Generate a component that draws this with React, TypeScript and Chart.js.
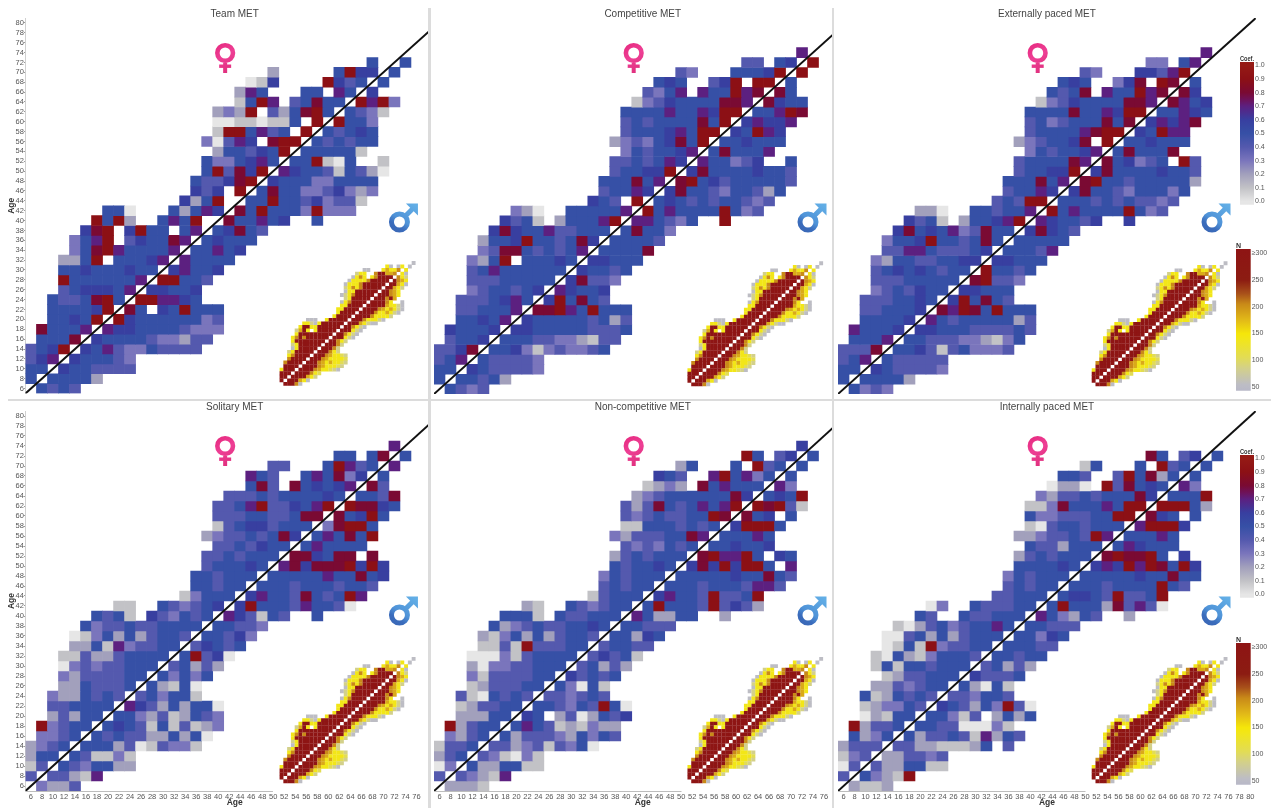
import React, { useEffect, useRef } from "react";
import Chart from "chart.js/auto";

const AGE_TICKS = [6, 8, 10, 12, 14, 16, 18, 20, 22, 24, 26, 28, 30, 32, 34, 36, 38, 40, 42, 44, 46, 48, 50, 52, 54, 56, 58, 60, 62, 64, 66, 68, 70, 72, 74, 76, 78, 80];
const ROW_AGES = [74, 72, 70, 68, 66, 64, 62, 60, 58, 56, 54, 52, 50, 48, 46, 44, 42, 40, 38, 36, 34, 32, 30, 28, 26, 24, 22, 20, 18, 16, 14, 12, 10, 8, 6];
const COEF_TICKS = [0, 0.1, 0.2, 0.3, 0.4, 0.5, 0.6, 0.7, 0.8, 0.9, 1];
const N_TICKS = [50, 100, 150, 200, 250, 300];

// Each row: "first x age|one digit per 2-year column" (digit = coefficient x 10, "." = no cell)
const teamMet = ["", "68|5..5", "50|2.....5966.5", "46|016....9645.5", "44|275...55.75.6", "44|1597.45855.9793", "40|2329.425895.5431", "40|00110115.9.9553", "40|1995745.9.54565", "38|30476.899.545455", "40|2554659.555551", "38|5335675.559105..1", "38|594869.7655415420", "36|544689.6555335555", "36|646.9.58553346323", "34|6259..55955463441", "20|550...52576.85955539333", "18|9592..5759..855756..5", "16|689.6955.57.56854", "14|3579.465587.56555", "14|3589755557.55756", "12|2259.55567.75555", "12|556555655.67556", "12|95555557.99554", "12|4566657.66556", "10|5445895.997765", "10|555569.85.659555", "10|55659.9655555534", "8|85557.76655554333", "8|5558.65555433244", "6|4569.65743354444", "6|467.655543", "6|55.6554444", "6|5.55552", "8|5454"];
const competitiveMet = ["72|7", "62|44.56.9", "50|43...55569.9", "46|565..469.99.5", "44|4357.755978.85", "42|13465555887.8655", "40|55557557699.55798", "40|4545555859.67667", "40|455567599.65976", "38|234356859.556555", "40|3545567.585557", "38|4454576.755346..5", "38|455669.6855556554", "36|555857.89564555554", "36|45576.68554355425", "34|654.9.56545455434", "20|320..555557.95755559534", "18|6451.255579.775435..9", "16|68655744555.58553", "14|25569554586.55554", "14|3488545457.55558", "12|3259.55565.66555", "12|457555555.65545", "12|44455555.68443", "12|3455456.76556", "10|4445675.695854", "10|445557.889759555", "10|55657.6555554524", "8|65556.66555554445", "8|4556.55544332144", "6|4468.55631343345", "6|457.544443", "6|55.6544443", "6|5.55452", "8|5434"];
const externallyPacedMet = ["72|7", "62|33.57", "50|43...66479", "46|565..368.98.5", "44|5458.755978.86", "42|13465555887.8756", "40|55558557699.55765", "40|4534555858.67678", "40|455557899.65977", "38|2345568.9.556555", "40|3545567.585558", "38|4555587.856345.94", "38|455669.6855556554", "36|555857.89554555552", "36|45576.68554355535", "34|45499.55545454434", "20|220..554557.95755559534", "18|6451.255679.765546..6", "16|68565734855.68654", "14|35569554585.55555", "14|4477544456.55547", "12|3255445566.66555", "12|456565455.95545", "12|44455555.89443", "12|3454655.66555", "10|4445565.695854", "10|445556.879859555", "10|55556.7545555524", "8|75556.66555444454", "8|5557.55444332135", "6|4448.55641453334", "6|457.544444", "6|55.6544443", "6|5.55552", "8|5343"];
const solitaryMet = ["72|7", "62|55.58.5", "50|44...59745.7", "46|754..575836.5", "46|584.856567.84", "42|44454555565.5548", "40|44579446579.98865", "40|4445544588.85695", "40|145664555.38995", "38|234454586.575859", "40|4454655.575555", "38|4454555.886588.8", "38|455565.7868889696", "36|554555.55555755856", "36|55455.55545554554", "34|13555.67554854597", "22|11..543456.69555475540", "18|5451.643545.764154..5", "16|53445445555.55443", "14|01352524554.55463", "14|2251734455.46545", "12|1142245555.59460", "12|034344555.45242", "12|32444455.53535", "12|2254445.52150", "10|3225454.453551", "10|445555.764252550", "10|24255.5532412543", "8|93455.56541514123", "8|3345.54544225250", "6|2345.55524014331", "6|255.541131", "6|14.5435522", "6|4.44217", "8|3224"];
const nonCompetitiveMet = ["72|6", "62|95.46.5", "50|25...5.945.5", "46|654..795735.5", "44|1232.857555.73", "42|23455555586.5659", "40|42485457579.98941", "40|4345445598.856.5", "40|115554545.69995", "38|324445587.55575", "40|4343545.556556", "38|2454555.897795.65", "38|545565.68696995.7", "36|354555.55555655854", "36|45455.55545554774", "34|14555.6755494459", "22|21..543455.59555494642", "18|5551.544555.752255..2", "16|52345445565.55444", "14|21352524554.55265", "14|1141944455.45544", "12|0003145555.46451", "12|203344555.45242", "12|31444455.64545", "12|1244455.53051", "10|4105454.443454", "10|124455.554354950", "10|22255.65.2402546", "8|92455.5754121322", "8|3245.52444325354", "6|1445.4423414350", "6|245.431031", "6|03.5225511", "6|4.43217", "8|2221"];
const internallyPacedMet = ["", "62|85.46.5", "50|15...5.945.5", "46|554..495825.5", "44|0220.948565.73", "42|32445455586.5559", "40|11385557599.99952", "40|5334445599.865.5", "40|104554555.79996", "38|223445497.55575", "40|5442555.576555", "38|2454555.898895.6", "38|555565.6769798596", "36|354555.55555655855", "36|45455.55545555954", "34|44555.5665494459", "22|03..544455.59555284740", "20|54..544555.753254..2", "16|10245345575.55444", "14|00452524555.55365", "14|0151934455.55544", "12|1052135554.55455", "12|151554555.45242", "14|1244555.64445", "12|2243455.52051", "10|5125454.443554", "10|123354.654253940", "10|02155.55314.2525", "8|92445.554400031", "8|5235.52445417254", "6|2444.442211125.4", "6|134.224434", "6|04.4225511", "6|4.53219", "8|2112"];
// Same layout, digit = sample-size tier (see N_TIERS)
const sampleSizeN = ["76|0", "62|30.03.0", "50|00...35336.3", "46|133..699556.30", "44|0363.369999.631", "42|03333699999.9653", "40|03336999999.99530", "40|1363699999.99531", "40|033999999.99653", "38|013699999.999653", "40|1399999.999695", "38|0369999.999963..0", "38|339999.9999953310", "36|339999.99996535310", "36|39999.99996335310", "34|39999.9999633331", "20|000..399999.999633310", "18|33103999999.99953100", "16|39933999999.996310", "14|1593.399999.999310", "14|3999999999.996310", "12|3696999999.999310", "12|399999999.99631", "12|13999999.99961", "12|0399999.99961", "10|1399999.999631", "10|369999.999653321", "10|69999.9996533332", "8|69999.99965353321", "8|9999.99996533321", "6|3999.99996533210", "6|999.9999632", "6|99.9999531", "6|9.999530", "8|99960"];
const N_TIERS = [55, 85, 105, 140, 150, 185, 205, 235, 270, 300];

const coefStops: [number, string][] = [[0, "#e6e6e6"], [0.1, "#c2c2c6"], [0.2, "#a2a0bc"], [0.3, "#7a75bc"], [0.4, "#5459ae"], [0.5, "#3650a6"], [0.6, "#383fa0"], [0.65, "#4a2f90"], [0.7, "#5c2080"], [0.75, "#6e1258"], [0.8, "#7a0a33"], [0.9, "#8c1015"], [1, "#951a15"]];
const nStops: [number, string][] = [[43, "#b8b8c8"], [55, "#bdbdc4"], [85, "#d3d08a"], [105, "#e2dc55"], [140, "#f2e618"], [150, "#f5e60a"], [175, "#e2ba18"], [205, "#c98a18"], [225, "#a8501a"], [250, "#8c1c12"], [308, "#8e1414"]];

const INSET_X_RANGE = [-129.7, 92.1];
const INSET_Y_RANGE = [0.6, 211.7];
const PLOT_WIDTH = 421.42;

const panels = [
  { title: "Team MET", rows: teamMet, col: 0, row: 0, left: 0, top: 0, plotLeft: 25.45 },
  { title: "Competitive MET", rows: competitiveMet, col: 1, row: 0, left: 430, top: 0, plotLeft: 0.05 },
  { title: "Externally paced MET", rows: externallyPacedMet, col: 2, row: 0, left: 834, top: 0, plotLeft: 0.45 },
  { title: "Solitary MET", rows: solitaryMet, col: 0, row: 1, left: 0, top: 400, plotLeft: 25.45 },
  { title: "Non-competitive MET", rows: nonCompetitiveMet, col: 1, row: 1, left: 430, top: 400, plotLeft: 0.05 },
  { title: "Internally paced MET", rows: internallyPacedMet, col: 2, row: 1, left: 834, top: 400, plotLeft: 0.45 },
];

const FONT = "'Liberation Sans', Arial, sans-serif";
const TICK_COLOR = "#555";

function hexToRgb(h: string) {
  return [parseInt(h.slice(1, 3), 16), parseInt(h.slice(3, 5), 16), parseInt(h.slice(5, 7), 16)];
}
function colorFor(stops: [number, string][], v: number) {
  if (v <= stops[0][0]) return stops[0][1];
  for (let i = 1; i < stops.length; i++) {
    if (v <= stops[i][0]) {
      const [a, ca] = stops[i - 1];
      const [b, cb] = stops[i];
      const t = (v - a) / (b - a);
      const A = hexToRgb(ca);
      const B = hexToRgb(cb);
      return `rgb(${A.map((c, k) => Math.round(c + (B[k] - c) * t)).join(",")})`;
    }
  }
  return stops[stops.length - 1][1];
}

function parseRow(row: string) {
  if (!row) return [] as { x: number; d: number }[];
  const [start, body] = row.split("|");
  const out: { x: number; d: number }[] = [];
  body.split("").forEach((ch, i) => {
    if (ch !== ".") out.push({ x: Number(start) + i * 2, d: Number(ch) });
  });
  return out;
}

function heatDatasets(rows: string[]) {
  return rows
    .map((row, i) => {
      const cells = parseRow(row);
      const age = ROW_AGES[i];
      return {
        type: "bar" as const,
        data: cells.map((c) => ({ x: c.x, y: [age - 1, age + 1] })),
        backgroundColor: cells.map((c) => colorFor(coefStops, c.d / 10)),
        borderWidth: 0,
        grouped: false,
        barPercentage: 1,
        categoryPercentage: 1,
        xAxisID: "x",
        yAxisID: "y",
        order: 2,
      };
    })
    .filter((d) => d.data.length > 0);
}

function insetDataset() {
  const pts: { x: number; y: number; c: string }[] = [];
  sampleSizeN.forEach((row, i) => {
    parseRow(row).forEach((c) => pts.push({ x: c.x, y: ROW_AGES[i], c: colorFor(nStops, N_TIERS[c.d]) }));
  });
  return {
    type: "scatter" as const,
    data: pts.map((p) => ({ x: p.x, y: p.y })),
    pointStyle: "rect",
    pointRadius: 2.75,
    pointBorderWidth: 0,
    pointBackgroundColor: pts.map((p) => p.c),
    xAxisID: "x2",
    yAxisID: "y2",
    order: 1,
  };
}

const decorPlugin = {
  id: "decor",
  beforeDatasetsDraw(chart: any) {
    const { ctx, chartArea } = chart;
    ctx.save();
    ctx.fillStyle = "#fff";
    ctx.fillRect(chartArea.left + 247.5, chartArea.bottom - 6, chartArea.width, 7.5);
    ctx.restore();
  },
  afterDraw(chart: any) {
    const { ctx, chartArea } = chart;
    const fx = chartArea.left + 199.7;
    const fy = chartArea.top + 35;
    ctx.save();
    const fg = ctx.createLinearGradient(fx - 8, fy - 10, fx + 8, fy + 16);
    fg.addColorStop(0, "#e6297f");
    fg.addColorStop(0.5, "#ee3f95");
    fg.addColorStop(1, "#e0307e");
    ctx.strokeStyle = fg;
    ctx.fillStyle = fg;
    ctx.lineWidth = 4.6;
    ctx.beginPath();
    ctx.arc(fx, fy, 7.8, 0, Math.PI * 2);
    ctx.stroke();
    ctx.fillRect(fx - 2, fy + 9.5, 4, 10.5);
    ctx.fillRect(fx - 6, fy + 11.5, 12, 3.4);
    const mx = chartArea.left + 374;
    const my = chartArea.top + 204;
    const mg = ctx.createLinearGradient(mx + 14, my - 18, mx - 6, my + 12);
    mg.addColorStop(0, "#62aee6");
    mg.addColorStop(0.55, "#4f93d8");
    mg.addColorStop(0.75, "#3a6cbc");
    mg.addColorStop(1, "#3a66b4");
    ctx.strokeStyle = mg;
    ctx.fillStyle = mg;
    ctx.lineWidth = 5;
    ctx.beginPath();
    ctx.arc(mx, my, 8, 0, Math.PI * 2);
    ctx.stroke();
    ctx.beginPath();
    ctx.moveTo(mx + 5, my - 5);
    ctx.lineTo(mx + 14, my - 14);
    ctx.stroke();
    ctx.beginPath();
    ctx.moveTo(mx + 18.5, my - 18.5);
    ctx.lineTo(mx + 6.5, my - 18.5);
    ctx.lineTo(mx + 18.5, my - 6.5);
    ctx.closePath();
    ctx.fill();
    ctx.restore();
  },
};

function makePanel(canvas: HTMLCanvasElement, p: (typeof panels)[number]) {
  const lastTick = p.col === 2 ? 80 : 76;
  const tickValues = AGE_TICKS.filter((a) => a <= lastTick);
  const showY = p.col === 0;
  const showX = p.row === 1;
  return new Chart(canvas, {
    type: "bar",
    plugins: [decorPlugin],
    data: {
      datasets: [
        {
          type: "line",
          data: [{ x: 5, y: 5 }, { x: 81, y: 81 }],
          borderColor: "#111",
          borderWidth: 2,
          pointRadius: 0,
          xAxisID: "x",
          yAxisID: "y",
          order: 0,
        },
        insetDataset(),
        ...heatDatasets(p.rows),
      ] as any,
    },
    options: {
      responsive: false,
      animation: false,
      events: [],
      layout: { padding: { left: showY ? 0 : p.plotLeft, right: canvas.width - p.plotLeft - PLOT_WIDTH, top: 0, bottom: 0 } },
      plugins: {
        legend: { display: false },
        tooltip: { enabled: false },
        title: {
          display: true,
          text: p.title,
          fullSize: false,
          color: "#444",
          font: { family: FONT, size: 10, weight: "normal", lineHeight: 1.2 },
          padding: { top: p.row === 0 ? 8 : 1, bottom: -2 },
        },
      } as any,
      scales: {
        x: {
          type: "linear",
          display: showX,
          offset: false,
          bounds: "data",
          min: 5,
          max: 81,
          grid: { drawOnChartArea: false, drawTicks: false },
          border: { color: "#bdbdbd", width: 1 },
          ticks: { autoSkip: false, maxRotation: 0, padding: 1, color: TICK_COLOR, font: { family: FONT, size: 7.5 }, stepSize: 2 },
          title: { display: true, text: "Age", color: "#333", padding: 0, font: { family: FONT, size: 8.5, weight: "bold" } },
          afterBuildTicks: (s: any) => { s.ticks = tickValues.map((value) => ({ value })); },
          afterFit: (s: any) => { s.height = showX ? 17 : 0; },
        },
        y: {
          type: "linear",
          display: showY,
          bounds: "data",
          min: 5,
          max: 81,
          grid: { drawOnChartArea: false, drawTicks: true, tickLength: 1.5, color: "#999" },
          border: { color: "#d0d0d0", width: 1 },
          ticks: { autoSkip: false, padding: 0, color: TICK_COLOR, font: { family: FONT, size: 7.5 }, stepSize: 2 },
          title: { display: true, text: "Age", color: "#333", padding: { top: 7, bottom: 0 }, font: { family: FONT, size: 8.5, weight: "bold" } },
          afterBuildTicks: (s: any) => { s.ticks = AGE_TICKS.map((value) => ({ value })); },
          afterFit: (s: any) => { s.width = showY ? p.plotLeft : 0; },
        },
        x2: { type: "linear", display: false, min: INSET_X_RANGE[0], max: INSET_X_RANGE[1], bounds: "data", offset: false },
        y2: { type: "linear", display: false, min: INSET_Y_RANGE[0], max: INSET_Y_RANGE[1], bounds: "data" },
      } as any,
    },
  });
}

function makeColorbar(canvas: HTMLCanvasElement, cfg: any) {
  const { stops, min, max, ticks, title, paddingLeft, axisWidth, topPad, bottomPad, label } = cfg;
  return new Chart(canvas, {
    type: "bar",
    data: {
      labels: [title],
      datasets: [
        {
          data: [[min, max]],
          barPercentage: 1,
          categoryPercentage: 1,
          borderWidth: 0,
          backgroundColor: (ctx: any) => {
            const area = ctx.chart.chartArea;
            if (!area) return stops[0][1];
            const g = ctx.chart.ctx.createLinearGradient(0, area.bottom, 0, area.top);
            stops.forEach(([v, c]: [number, string]) => {
              const t = (v - min) / (max - min);
              g.addColorStop(Math.min(1, Math.max(0, t)), c);
            });
            return g;
          },
        },
      ] as any,
    },
    options: {
      responsive: false,
      animation: false,
      events: [],
      layout: { padding: { left: paddingLeft, right: 0, top: 0, bottom: bottomPad } },
      plugins: {
        legend: { display: false },
        tooltip: { enabled: false },
        title: {
          display: true,
          text: title,
          fullSize: false,
          align: "start",
          color: "#333",
          font: { family: FONT, size: 7, weight: "bold", lineHeight: 1.2 },
          padding: { top: topPad, bottom: -1.4 },
        },
      } as any,
      scales: {
        x: { display: false, afterFit: (s: any) => { s.height = 0; } },
        y: {
          position: "right",
          min,
          max,
          bounds: "data",
          grid: { display: false, drawTicks: false },
          border: { display: false },
          ticks: { autoSkip: false, padding: 1, color: TICK_COLOR, font: { family: FONT, size: 7 }, callback: label },
          afterBuildTicks: (s: any) => { s.ticks = ticks.map((value: number) => ({ value })); },
          afterFit: (s: any) => { s.width = axisWidth; },
        },
      } as any,
    },
  });
}

const coefLabel = (v: any) => Number(v).toFixed(1);
const nLabel = (v: any) => (Number(v) === 300 ? "≥300" : String(v));
const colorbars = [
  { left: 1235, top: 50, width: 36, height: 160, stops: coefStops, min: -0.025, max: 1.025, ticks: COEF_TICKS, title: "Coef.", paddingLeft: 5, axisWidth: 17, topPad: 5, bottomPad: 3, label: coefLabel },
  { left: 1235, top: 443, width: 36, height: 160, stops: coefStops, min: -0.025, max: 1.025, ticks: COEF_TICKS, title: "Coef.", paddingLeft: 5, axisWidth: 17, topPad: 5, bottomPad: 4, label: coefLabel },
  { left: 1231, top: 238, width: 40, height: 158, stops: nStops, min: 43, max: 308, ticks: N_TICKS, title: "N", paddingLeft: 5, axisWidth: 20.3, topPad: 4, bottomPad: 3.3, label: nLabel },
  { left: 1231, top: 632, width: 40, height: 158, stops: nStops, min: 43, max: 308, ticks: N_TICKS, title: "N", paddingLeft: 5, axisWidth: 20.3, topPad: 4, bottomPad: 4, label: nLabel },
];

const SEP = "#dcdcdc";
const separators = [
  { left: 8, top: 398.5, width: 1263, height: 2.6 },
  { left: 428, top: 8, width: 2.6, height: 800 },
  { left: 831.6, top: 8, width: 2.6, height: 800 },
];

export default function App() {
  const panelRefs = useRef<(HTMLCanvasElement | null)[]>([]);
  const barRefs = useRef<(HTMLCanvasElement | null)[]>([]);
  useEffect(() => {
    document.body.style.margin = "0";
    document.body.style.overflow = "hidden";
    const charts: any[] = [];
    panels.forEach((p, i) => {
      const c = panelRefs.current[i];
      if (c) charts.push(makePanel(c, p));
    });
    colorbars.forEach((cfg, i) => {
      const c = barRefs.current[i];
      if (c) charts.push(makeColorbar(c, cfg));
    });
    return () => charts.forEach((c) => c.destroy());
  }, []);
  const blur = "blur(0.45px)";
  return (
    <div style={{ position: "fixed", left: 0, top: 0, width: 1271, height: 808, background: "#fff", overflow: "hidden" }}>
      {panels.map((p, i) => (
        <canvas
          key={p.title}
          ref={(el) => { panelRefs.current[i] = el; }}
          width={448}
          height={p.row === 0 ? 398 : 408}
          style={{ position: "absolute", left: p.left, top: p.top, background: "#fff", filter: blur }}
        />
      ))}
      {separators.map((s, i) => (
        <div key={i} style={{ position: "absolute", ...s, background: SEP }} />
      ))}
      {colorbars.map((b, i) => (
        <canvas
          key={i}
          ref={(el) => { barRefs.current[i] = el; }}
          width={b.width}
          height={b.height}
          style={{ position: "absolute", left: b.left, top: b.top, filter: blur }}
        />
      ))}
    </div>
  );
}
